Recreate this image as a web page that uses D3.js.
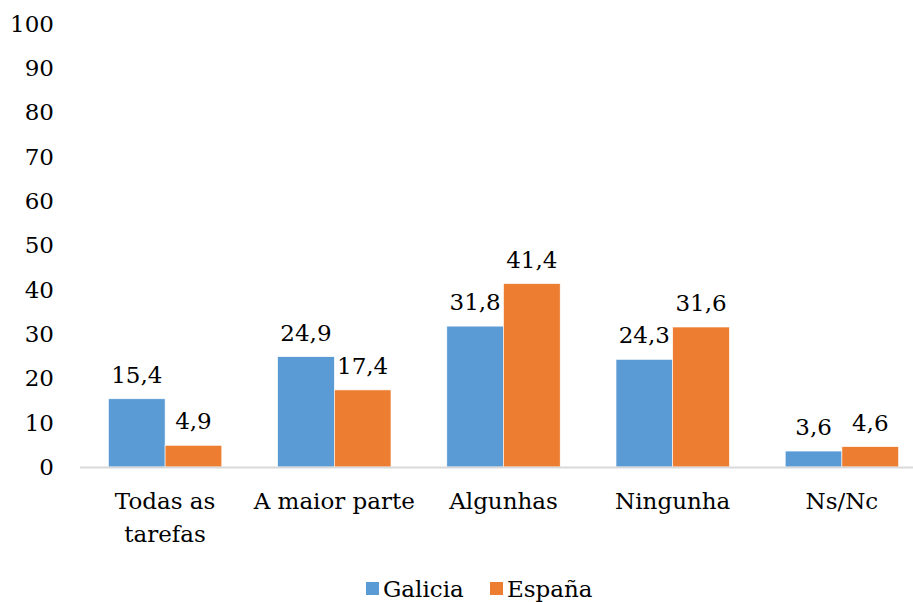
<!DOCTYPE html>
<html>
<head>
<meta charset="utf-8">
<script src="https://cdn.jsdelivr.net/npm/d3@7"></script>
<style>
  html, body { margin: 0; padding: 0; background: #fff; }
</style>
</head>
<body>
<svg id="chart" width="913" height="602"></svg>
<script>
const categories = [["Todas as", "tarefas"], ["A maior parte"], ["Algunhas"], ["Ningunha"], ["Ns/Nc"]];
const seriesNames = ["Galicia", "España"];
const galicia = [15.4, 24.9, 31.8, 24.3, 3.6];
const espana = [4.9, 17.4, 41.4, 31.6, 4.6];
const yTicks = [0, 10, 20, 30, 40, 50, 60, 70, 80, 90, 100];
const colors = ["#5B9BD5", "#ED7D31"];

const svg = d3.select("#chart");
const fontFamily = "'DejaVu Serif', 'Liberation Serif', serif";
const fontSize = 23;

const y = d3.scaleLinear().domain([0, 100]).range([467, 24]);
const x0 = d3.scaleBand()
  .domain(d3.range(categories.length))
  .range([80.5, 926.5])
  .paddingInner(0.33)
  .paddingOuter(0.165);
const x1 = d3.scaleBand().domain([0, 1]).range([0, x0.bandwidth()]);

// y axis labels (no axis line or ticks)
const yAxis = d3.axisLeft(y).tickValues(yTicks).tickSize(0).tickPadding(0).tickFormat(d3.format("d"));
const gy = svg.append("g").attr("transform", "translate(54,0)").call(yAxis);
gy.select(".domain").remove();
gy.attr("font-family", fontFamily).attr("font-size", fontSize);
gy.selectAll("text").attr("fill", "#000");

// bars and value labels
const data = [galicia, espana];
data.forEach((vals, s) => {
  svg.append("g").selectAll("rect")
    .data(vals)
    .join("rect")
    .attr("x", (d, i) => x0(i) + x1(s))
    .attr("width", x1.bandwidth())
    .attr("y", d => y(d))
    .attr("height", d => y(0) - y(d))
    .attr("fill", colors[s])
    .attr("stroke", "#fff")
    .attr("stroke-width", 0.6);

  svg.append("g").selectAll("text")
    .data(vals)
    .join("text")
    .attr("x", (d, i) => x0(i) + x1(s) + x1.bandwidth() / 2)
    .attr("y", d => y(d) - 16)
    .attr("text-anchor", "middle")
    .attr("font-family", fontFamily)
    .attr("font-size", fontSize)
    .text(d => d3.format(".1f")(d).replace(".", ","));
});

// baseline
svg.append("line")
  .attr("x1", 80).attr("x2", 913)
  .attr("y1", y(0) + 0.5).attr("y2", y(0) + 0.5)
  .attr("stroke", "#d9d9d9").attr("stroke-width", 2);

// category labels
const cat = svg.append("g").selectAll("text")
  .data(categories)
  .join("text")
  .attr("text-anchor", "middle")
  .attr("x", (d, i) => x0(i) + x0.bandwidth() / 2)
  .attr("y", 509)
  .attr("font-family", fontFamily)
  .attr("font-size", fontSize);
cat.selectAll("tspan")
  .data(d => d)
  .join("tspan")
  .attr("x", function() { return d3.select(this.parentNode).attr("x"); })
  .attr("dy", (d, i) => i === 0 ? 0 : 33)
  .text(d => d);

// legend
const legendX = [366, 490];
seriesNames.forEach((name, s) => {
  svg.append("rect")
    .attr("x", legendX[s]).attr("y", 582)
    .attr("width", 13).attr("height", 13)
    .attr("fill", colors[s]);
  svg.append("text")
    .attr("x", legendX[s] + 17).attr("y", 597)
    .attr("font-family", fontFamily)
    .attr("font-size", fontSize)
    .text(name);
});
</script>
</body>
</html>
